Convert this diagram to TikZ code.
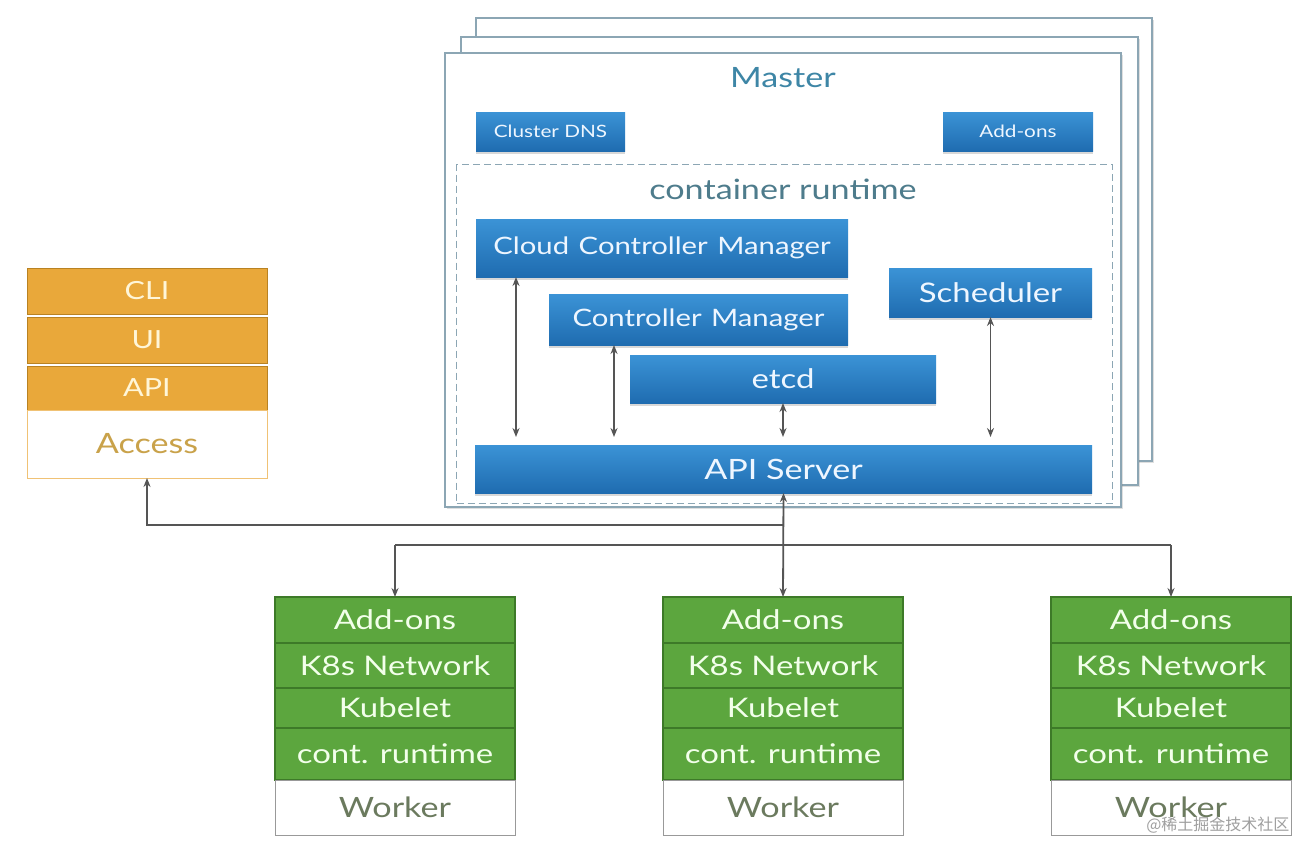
\documentclass[tikz,border=0pt]{standalone}
\usepackage{fontspec}
\setmainfont{Lato}[FakeStretch=1.22]
\newfontfamily\cjk{Noto Sans CJK SC}
\usetikzlibrary{arrows.meta,shadows,calc}
\definecolor{blueT}{HTML}{3B93D6}
\definecolor{blueB}{HTML}{1F6CB0}
\definecolor{blueTxt}{HTML}{EEF6FF}
\definecolor{frameC}{HTML}{8CA6B4}
\definecolor{titleC}{HTML}{3E86A6}
\definecolor{crC}{HTML}{4E7C8C}
\definecolor{orangeC}{HTML}{E9A83A}
\definecolor{orangeD}{HTML}{B98222}
\definecolor{orangeTxt}{HTML}{FFF6D8}
\definecolor{accessTxt}{HTML}{C9A24A}
\definecolor{greenC}{HTML}{5CA63E}
\definecolor{greenD}{HTML}{3D7A28}
\definecolor{greenTxt}{HTML}{F2FFEA}
\definecolor{workerTxt}{HTML}{6B7A5E}
\definecolor{lineC}{HTML}{555555}
\begin{document}
\begin{tikzpicture}[x=1pt,y=-1pt,
  frame/.style={draw=frameC, line width=1.2pt, fill=white, inner sep=0pt, outer sep=0pt, anchor=north west,
    drop shadow={shadow xshift=1.5pt, shadow yshift=-1.5pt, opacity=0.25}},
  bluebox/.style={draw=none, top color=blueT, bottom color=blueB, text=blueTxt, inner sep=0pt, outer sep=0pt,
    anchor=north west, drop shadow={shadow xshift=0pt, shadow yshift=-3pt, opacity=0.3}},
  orangebox/.style={draw=orangeD, line width=0.8pt, fill=orangeC, text=orangeTxt, inner sep=0pt, outer sep=0pt,
    anchor=north west, minimum width=240pt, font=\fontsize{25}{27}\selectfont},
  greenbox/.style={draw=greenD, line width=1.2pt, fill=greenC, text=greenTxt, inner sep=0pt, outer sep=0pt,
    anchor=north west, minimum width=240pt, font=\fontsize{27}{29}\selectfont},
  conn/.style={draw=lineC, line width=1.8pt, -{Stealth[length=9pt,width=7pt]}},
  dconn/.style={draw=lineC, line width=1.8pt, {Stealth[length=9pt,width=7pt]}-{Stealth[length=9pt,width=7pt]}},
  plain/.style={draw=lineC, line width=1.8pt}
]
\useasboundingbox (0,0) rectangle (1297,841);
\fill[white] (0,0) rectangle (1297,841);

% Master frames
\node[frame, minimum width=676pt, minimum height=443pt] (f3) at (476,18) {};
\node[frame, minimum width=677pt, minimum height=448pt] (f2) at (461,37) {};
\node[frame, minimum width=676pt, minimum height=454pt] (f1) at (445,53) {};
\node[draw=frameC, line width=1.1pt, dash pattern=on 7pt off 4pt, inner sep=0pt, anchor=north west,
      minimum width=656pt, minimum height=339pt] (cr) at (456,164) {};
\node[text=titleC, font=\fontsize{28}{30}\selectfont] (mt) at (783,78) {Master};
\node[text=crC, font=\fontsize{28}{30}\selectfont] (crt) at (783,189) {container runtime};

% Blue boxes
\node[bluebox, minimum width=149pt, minimum height=39pt, font=\fontsize{17}{19}\selectfont] (dns) at (476,112) {Cluster DNS};
\node[bluebox, minimum width=150pt, minimum height=39pt, font=\fontsize{17}{19}\selectfont] (mao) at (943,112) {Add-ons};
\node[bluebox, minimum width=372pt, minimum height=58pt, font=\fontsize{24}{26}\selectfont] (ccm) at (476,219) {Cloud\ \hspace{2pt}Controller\ \hspace{2pt}Manager};
\node[bluebox, minimum width=203pt, minimum height=49pt, font=\fontsize{27}{29}\selectfont] (sch) at (889,268) {Scheduler};
\node[bluebox, minimum width=299pt, minimum height=51pt, font=\fontsize{24}{26}\selectfont] (cm) at (549,294) {Controller\ \hspace{2pt}Manager};
\node[bluebox, minimum width=306pt, minimum height=48pt, font=\fontsize{27}{29}\selectfont] (etcd) at (630,355) {etcd};
\node[bluebox, minimum width=617pt, minimum height=48pt, font=\fontsize{28}{30}\selectfont] (api) at (475,445) {API Server};

% Master internal arrows
\draw[dconn, shorten >=8pt] ([xshift=40pt]ccm.south west) -- ([xshift=40pt]ccm.south west |- api.north);
\draw[dconn, shorten >=8pt] ([xshift=65pt]cm.south west) -- ([xshift=65pt]cm.south west |- api.north);
\draw[dconn, shorten >=8pt] (etcd.south) -- (etcd.south |- api.north);
\draw[dconn, shorten >=8pt] (sch.south) -- (sch.south |- api.north);

% Access stack
\node[orangebox, minimum height=46pt] (cli) at (27,268) {CLI};
\node[orangebox, minimum height=46pt] (ui) at (27,317) {UI};
\node[orangebox, minimum height=44pt] (apic) at (27,366) {API};
\node[draw=orangeC!70, line width=1pt, fill=white, text=accessTxt, inner sep=0pt, outer sep=0pt, anchor=north west,
      minimum width=240pt, minimum height=68pt, font=\fontsize{28}{30}\selectfont] (acc) at (27,410) {Access};

% Workers
\foreach \i/\x in {1/275,2/663,3/1051}{
  \node[greenbox, minimum height=46pt] (w\i a) at (\x,597) {Add-ons};
  \node[greenbox, minimum height=45pt] (w\i k) at (\x,643) {K8s Network};
  \node[greenbox, minimum height=40pt] (w\i l) at (\x,688) {Kubelet};
  \node[greenbox, minimum height=52pt] (w\i c) at (\x,728) {cont. runtime};
  \node[draw=gray!80, line width=1pt, fill=white, text=workerTxt, inner sep=0pt, outer sep=0pt, anchor=north west,
        minimum width=240pt, minimum height=55pt, font=\fontsize{28}{30}\selectfont] (w\i w) at (\x,780) {Worker};
}

% Connections
\coordinate (j1) at (783,525);
\coordinate (j2) at (783,545);
\draw[dconn] (api.south) -- (w2a.north);
\draw[conn] (j1) -| (acc.south);
\draw[plain] (j2 -| w1a.north) -- (j2 -| w3a.north);
\draw[conn] (j2 -| w1a.north) -- (w1a.north);
\draw[conn] (j2 -| w3a.north) -- (w3a.north);

% watermark
\node[text=gray!75, font=\cjk\fontsize{16}{18}\selectfont, anchor=east] (wm) at (1293,825) {@稀土掘金技术社区};
\end{tikzpicture}
\end{document}
